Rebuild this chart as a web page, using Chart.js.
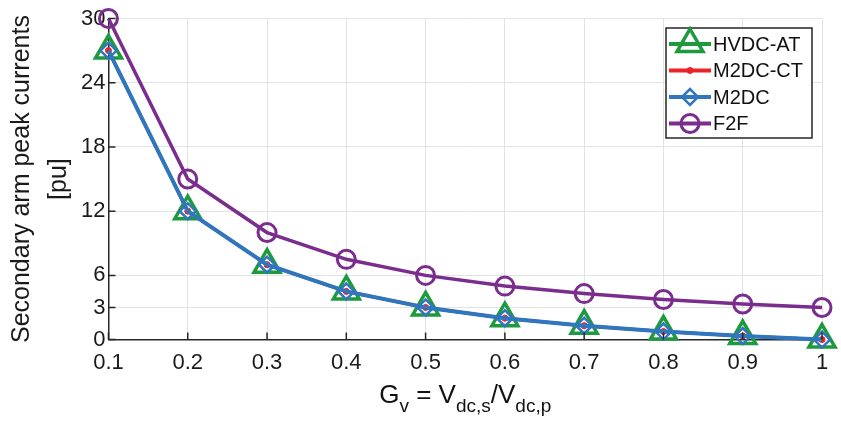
<!DOCTYPE html>
<html lang="en">
<head>
  <meta charset="UTF-8">
  <title>Secondary arm peak currents</title>
  <script src="https://cdn.jsdelivr.net/npm/chart.js"></script>
  <style>
    body { margin: 0; background: #fff; }
    #wrap { position: relative; width: 841px; height: 421px; }
  </style>
</head>
<body>
  <div id="wrap"><canvas id="chart"></canvas></div>
  <script>
    // values
    const gv = [0.1, 0.2, 0.3, 0.4, 0.5, 0.6, 0.7, 0.8, 0.9, 1];
    const hvdcAt = [27, 12, 7, 4.5, 3, 2, 1.3, 0.75, 0.33, 0];
    const m2dcCt = [27, 12, 7, 4.5, 3, 2, 1.3, 0.75, 0.33, 0];
    const m2dc = [27, 12, 7, 4.5, 3, 2, 1.3, 0.75, 0.33, 0];
    const f2f = [30, 15, 10, 7.5, 6, 5, 4.3, 3.75, 3.33, 3];
    const xTicks = [0.1, 0.2, 0.3, 0.4, 0.5, 0.6, 0.7, 0.8, 0.9, 1];
    const yTicks = [0, 3, 6, 12, 18, 24, 30];

    const font = "'Liberation Sans', Arial, sans-serif";
    const pts = arr => gv.map((x, i) => ({ x: x, y: arr[i] }));

    // short inward tick marks, like the original axes
    const tickMarks = {
      id: 'tickMarks',
      afterDatasetsDraw(chart) {
        const { ctx, chartArea: a, scales: { x, y } } = chart;
        ctx.save();
        ctx.strokeStyle = '#262626';
        ctx.lineWidth = 1.5;
        ctx.beginPath();
        xTicks.forEach(v => {
          const px = x.getPixelForValue(v);
          ctx.moveTo(px, a.bottom);
          ctx.lineTo(px, a.bottom - 7);
        });
        yTicks.forEach(v => {
          const py = y.getPixelForValue(v);
          ctx.moveTo(a.left, py);
          ctx.lineTo(a.left + 7, py);
        });
        ctx.stroke();
        ctx.restore();
      }
    };

    // boxed legend inside the plot, line + marker per series
    const boxLegend = {
      id: 'boxLegend',
      afterDraw(chart) {
        const ctx = chart.ctx;
        const left = 666, top = 28, w = 146, h = 110;
        ctx.save();
        ctx.fillStyle = '#fff';
        ctx.fillRect(left, top, w, h);
        ctx.strokeStyle = '#262626';
        ctx.lineWidth = 1.5;
        ctx.strokeRect(left, top, w, h);
        chart.data.datasets.forEach((ds, i) => {
          const cy = 44 + i * 26.5;
          ctx.strokeStyle = ds.borderColor;
          ctx.lineWidth = 4;
          ctx.beginPath();
          ctx.moveTo(669, cy);
          ctx.lineTo(711, cy);
          ctx.stroke();
          ctx.fillStyle = ds.pointBackgroundColor;
          ctx.strokeStyle = ds.borderColor;
          ctx.lineWidth = ds.pointBorderWidth;
          Chart.helpers.drawPoint(ctx, {
            pointStyle: ds.pointStyle, radius: ds.pointRadius, rotation: 0, borderWidth: ds.pointBorderWidth
          }, 690, cy);
          ctx.fillStyle = '#111';
          ctx.font = '20px ' + font;
          ctx.textBaseline = 'middle';
          ctx.fillText(ds.label, 713, cy + 1);
        });
        ctx.restore();
      }
    };

    // x-axis title with subscripts
    const xTitle = {
      id: 'xTitle',
      afterDraw(chart) {
        const ctx = chart.ctx;
        const a = chart.chartArea;
        const parts = [
          ['G', 0], ['v', 1], [' = ', 0], ['V', 0], ['dc,s', 1], ['/', 0], ['V', 0], ['dc,p', 1]
        ];
        const fMain = '26px ' + font, fSub = '19px ' + font;
        ctx.save();
        let total = 0;
        parts.forEach(p => { ctx.font = p[1] ? fSub : fMain; total += ctx.measureText(p[0]).width; });
        let cx = (a.left + a.right) / 2 - total / 2;
        ctx.fillStyle = '#111';
        ctx.textBaseline = 'alphabetic';
        parts.forEach(p => {
          ctx.font = p[1] ? fSub : fMain;
          ctx.fillText(p[0], cx, p[1] ? 412 : 403);
          cx += ctx.measureText(p[0]).width;
        });
        ctx.restore();
      }
    };

    new Chart(document.getElementById('chart'), {
      type: 'line',
      data: {
        datasets: [{
          label: 'HVDC-AT',
          data: pts(hvdcAt),
          borderColor: '#1e9a3e',
          borderWidth: 3,
          pointStyle: 'triangle',
          pointRadius: 15,
          pointBorderWidth: 3.5,
          pointBackgroundColor: 'rgba(0,0,0,0)',
          order: 3
        }, {
          label: 'M2DC-CT',
          data: pts(m2dcCt),
          borderColor: '#ec2227',
          borderWidth: 3,
          pointStyle: 'circle',
          pointRadius: 3,
          pointBorderWidth: 1,
          pointBackgroundColor: '#ec2227',
          order: 2
        }, {
          label: 'M2DC',
          data: pts(m2dc),
          borderColor: '#3076bf',
          borderWidth: 4,
          pointStyle: 'rectRot',
          pointRadius: 8,
          pointBorderWidth: 2.5,
          pointBackgroundColor: 'rgba(0,0,0,0)',
          order: 1
        }, {
          label: 'F2F',
          data: pts(f2f),
          borderColor: '#7b2d8e',
          borderWidth: 3.5,
          pointStyle: 'circle',
          pointRadius: 9,
          pointBorderWidth: 3,
          pointBackgroundColor: 'rgba(0,0,0,0)',
          order: 0
        }]
      },
      options: {
        responsive: true,
        maintainAspectRatio: false,
        animation: false,
        clip: false,
        layout: { padding: { top: 18, right: 19, bottom: 35, left: 4 } },
        elements: { line: { tension: 0 } },
        plugins: { legend: { display: false }, tooltip: { enabled: false } },
        scales: {
          x: {
            type: 'linear',
            min: 0.1,
            max: 1,
            afterBuildTicks: axis => { axis.ticks = xTicks.map(v => ({ value: v })); },
            ticks: {
              callback: v => String(v),
              color: '#1a1a1a',
              font: { family: font, size: 22 },
              padding: 10,
              maxRotation: 0
            },
            grid: { color: '#e3e3e3', lineWidth: 1, drawTicks: false },
            border: { color: '#262626', width: 1.5 }
          },
          y: {
            min: 0,
            max: 30,
            afterBuildTicks: axis => { axis.ticks = yTicks.map(v => ({ value: v })); },
            ticks: {
              color: '#1a1a1a',
              font: { family: font, size: 22 },
              padding: 3
            },
            grid: { color: '#e3e3e3', lineWidth: 1, drawTicks: false },
            border: { color: '#262626', width: 1.5 },
            title: {
              display: true,
              text: ['Secondary arm peak currents', '[pu]'],
              color: '#1a1a1a',
              font: { family: font, size: 25, lineHeight: 1.48 },
              padding: { top: 0, bottom: 0 }
            }
          }
        }
      },
      plugins: [tickMarks, boxLegend, xTitle]
    });
  </script>
</body>
</html>
